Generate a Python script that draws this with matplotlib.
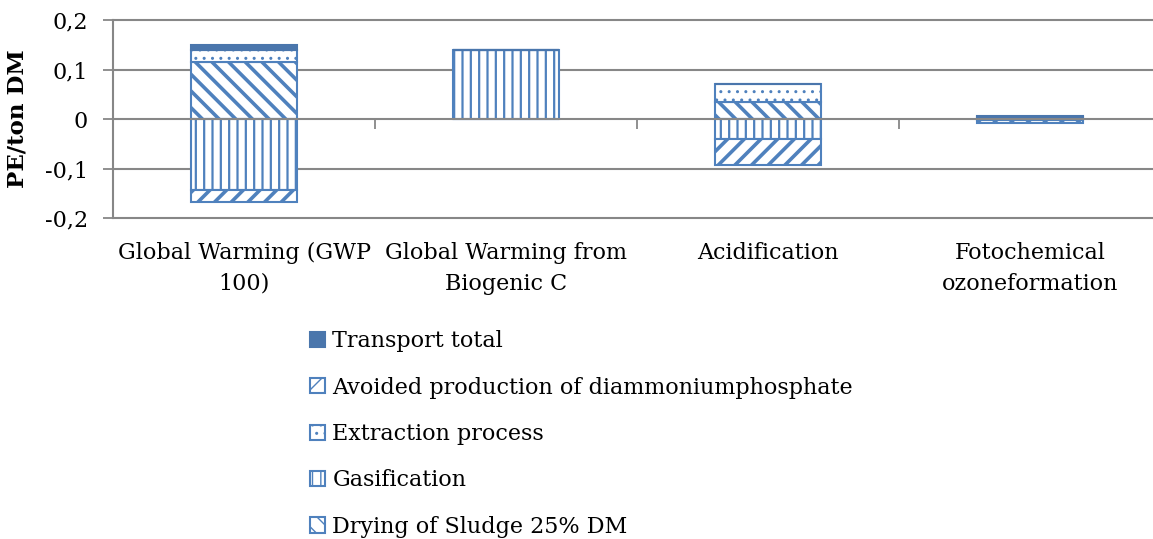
import matplotlib
matplotlib.use("Agg")
import matplotlib.pyplot as plt
import numpy as np

plt.rcParams['font.family'] = ['DejaVu Serif']

# categorias e valores (PE/ton DM)
categorias = ["Global Warming (GWP\n100)", "Global Warming from\nBiogenic C",
              "Acidification", "Fotochemical\nozoneformation"]
secagem = [0.116, 0.0, 0.035, 0.004]          # Drying of Sludge 25% DM
gaseificacao = [-0.143, 0.140, -0.041, -0.002]  # Gasification
extracao = [0.024, 0.0, 0.035, 0.001]         # Extraction process
evitado = [-0.024, 0.0, -0.051, -0.006]       # Avoided production of DAP
transporte = [0.010, 0.0, 0.0, 0.002]         # Transport total

series_nomes = ["Drying of Sludge 25% DM", "Gasification", "Extraction process",
                "Avoided production of diammoniumphosphate", "Transport total"]
yticks = [-0.2, -0.1, 0, 0.1, 0.2]
ytick_labels = ["-0,2", "-0,1", "0", "0,1", "0,2"]

azul = '#4F81BD'
azul_escuro = '#4A76AC'
cinza = '#878787'
fs = 16

fig = plt.figure(figsize=(11.53, 5.39), dpi=100)
ax = fig.add_axes([113 / 1153, 1 - 218 / 539, 1048 / 1153, 198 / 539])

x = np.arange(len(categorias))
largura = 0.405

estilos = [
    dict(hatch='\\\\', lw_h=2.6, face='white'),
    dict(hatch='||', lw_h=1.6, face='white'),
    dict(hatch='..', lw_h=1.0, face='white'),
    dict(hatch='//', lw_h=2.6, face='white'),
    dict(hatch=None, lw_h=1.0, face=azul_escuro),
]

base_pos = np.zeros(len(categorias))
base_neg = np.zeros(len(categorias))
handles = []
for valores, nome, est in zip([secagem, gaseificacao, extracao, evitado, transporte],
                              series_nomes, estilos):
    v = np.array(valores)
    bottoms = np.where(v >= 0, base_pos, base_neg)
    plt.rcParams['hatch.linewidth'] = est['lw_h']
    barras = ax.bar(x, v, largura, bottom=bottoms, color=est['face'],
                    edgecolor=azul if est['hatch'] else azul_escuro,
                    hatch=est['hatch'], linewidth=1.5, label=nome, zorder=3)
    for b in barras:
        if hasattr(b, 'set_hatch_linewidth'):
            b.set_hatch_linewidth(est['lw_h'])
    handles.append(barras)
    base_pos = base_pos + np.where(v >= 0, v, 0)
    base_neg = base_neg + np.where(v < 0, v, 0)

ax.set_xlim(-0.5, len(categorias) - 0.5)
ax.set_ylim(-0.2, 0.2)
ax.set_yticks(yticks)
ax.set_yticklabels(ytick_labels, fontsize=fs)
ax.set_ylabel('PE/ton DM', fontsize=16.5, fontweight='bold', labelpad=12)

for y in yticks:
    ax.axhline(y, color=cinza, lw=1.5, zorder=1 if y != 0 else 4, clip_on=False)

ax.set_xticks(x)
ax.set_xticklabels(categorias, fontsize=fs, linespacing=1.5)
ax.tick_params(axis='x', length=0, pad=17.5)
ax.tick_params(axis='y', length=7, width=1.3, color=cinza, pad=11)

for s in ['top', 'right', 'bottom']:
    ax.spines[s].set_visible(False)
ax.spines['left'].set_color(cinza)
ax.spines['left'].set_linewidth(1.5)

# marcas do eixo x na linha do zero
sec = ax.secondary_xaxis(0.5)
sec.set_xticks(np.arange(-0.5, len(categorias), 1.0))
sec.set_xticklabels([])
sec.tick_params(length=7, width=1.3, color=cinza, direction='in')
for s in sec.spines.values():
    s.set_visible(False)

leg = fig.legend(handles[::-1], series_nomes[::-1], loc='upper left',
                 bbox_to_anchor=(299 / 1153, 1 - 319 / 539), frameon=False,
                 fontsize=fs, handlelength=0.68, handleheight=0.68,
                 handletextpad=0.32, labelspacing=1.1, borderpad=0)

fig.savefig('out.png', dpi=100)
